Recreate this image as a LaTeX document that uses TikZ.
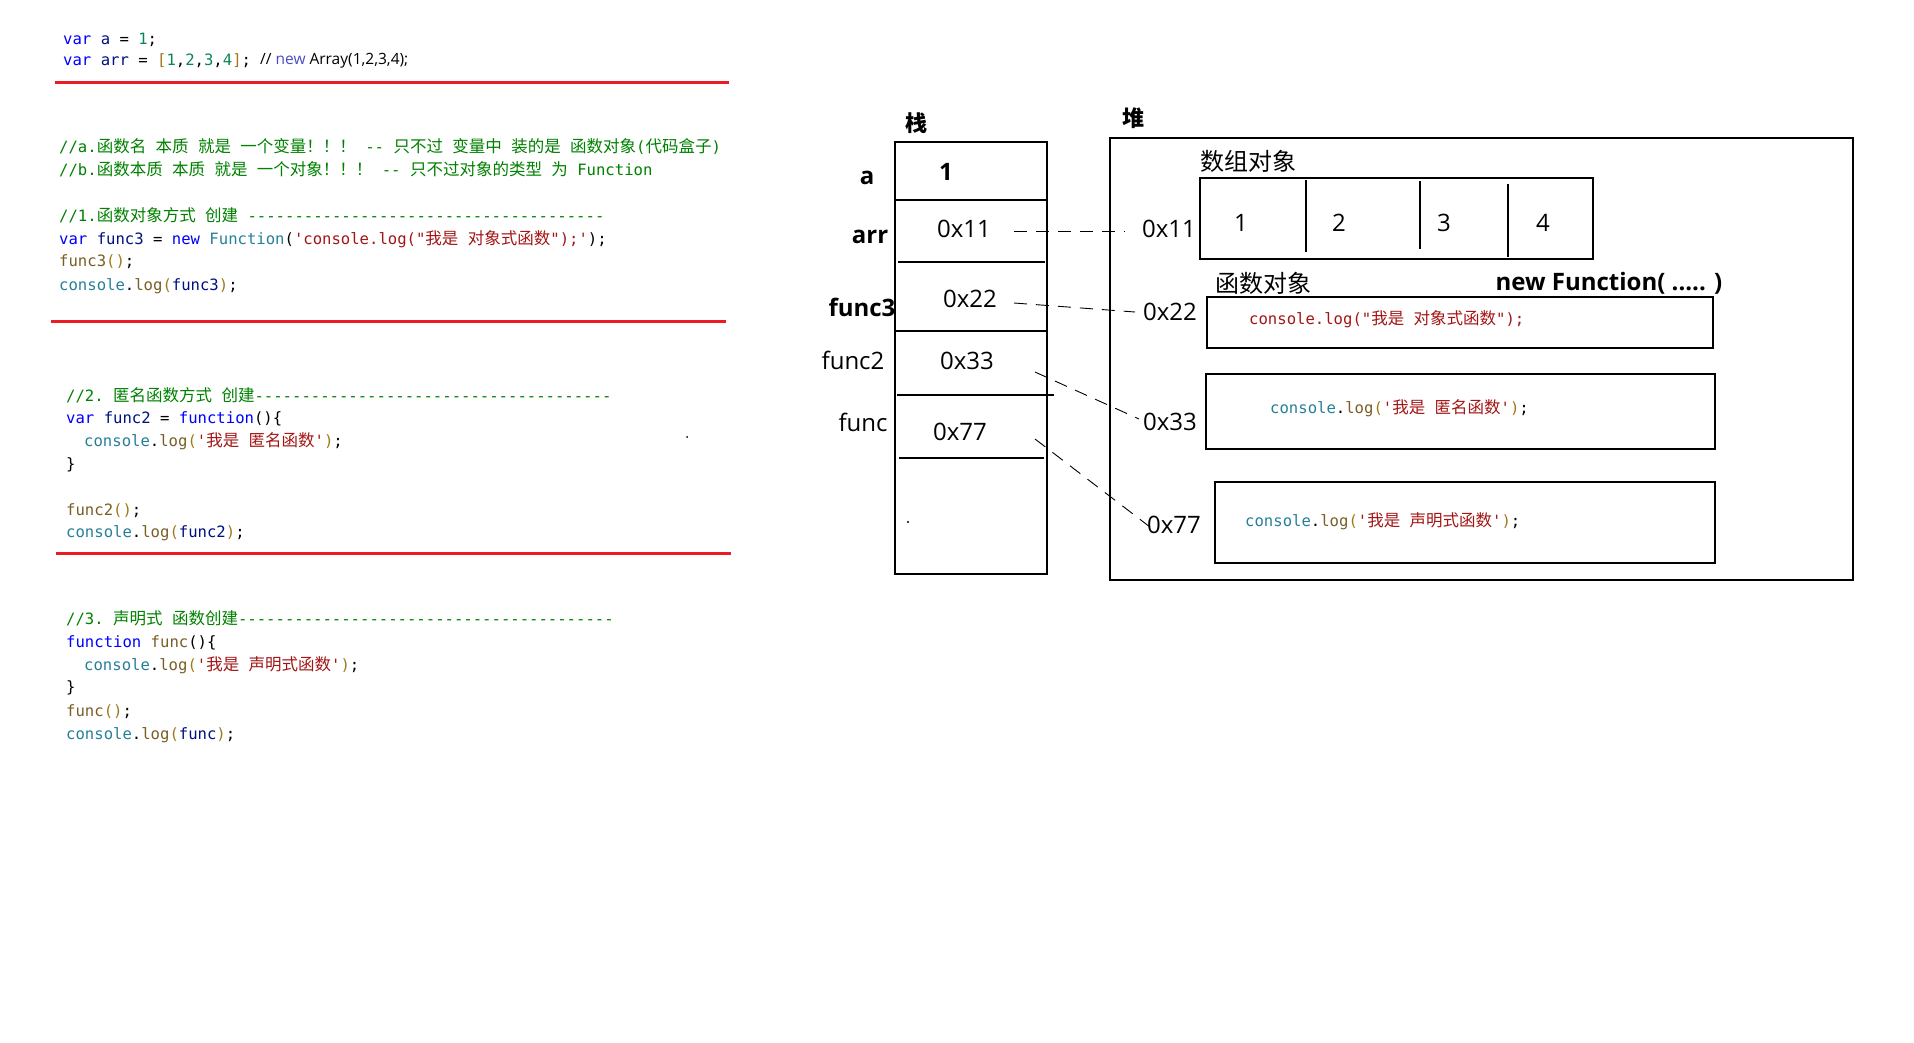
\documentclass[tikz,border=0pt]{standalone}
\usepackage{fontspec}
\setmainfont{Open Sans}
\setmonofont{DejaVu Sans Mono}
\newfontfamily\cjkf{Noto Sans CJK SC}
\definecolor{kw}{HTML}{0000FF}
\definecolor{vr}{HTML}{001080}
\definecolor{nm}{HTML}{098658}
\definecolor{st}{HTML}{A31515}
\definecolor{cm}{HTML}{008000}
\definecolor{ty}{HTML}{267F99}
\definecolor{fn}{HTML}{795E26}
\definecolor{brk}{HTML}{A07A1A}
\definecolor{newblue}{HTML}{4B4BC8}
\definecolor{redline}{HTML}{ED1C24}
\newcommand\zh[1]{{\cjkf\fontsize{16.5}{20}\selectfont #1}}
\newcommand\cKw[1]{\textcolor{kw}{#1}}
\newcommand\cVr[1]{\textcolor{vr}{#1}}
\newcommand\cNm[1]{\textcolor{nm}{#1}}
\newcommand\cSt[1]{\textcolor{st}{#1}}
\newcommand\cCm[1]{\textcolor{cm}{#1}}
\newcommand\cTy[1]{\textcolor{ty}{#1}}
\newcommand\cFn[1]{\textcolor{fn}{#1}}
\newcommand\cBr[1]{\textcolor{brk}{#1}}
\newcommand\dashrun[1]{\foreach \i in {1,...,#1}{-}}
\tikzset{
  code/.style={anchor=west, inner sep=0pt, font=\ttfamily\fontsize{15.6}{20}\selectfont, text height=11pt, text depth=3pt},
  lbl/.style={inner sep=0pt, font=\fontsize{24}{28}\selectfont},
  lblb/.style={inner sep=0pt, font=\bfseries\fontsize{24}{28}\selectfont},
  zhlbl/.style={inner sep=0pt, font=\cjkf\fontsize{24}{28}\selectfont},
  zhbold/.style={inner sep=0pt, font=\cjkf\bfseries\fontsize{22}{26}\selectfont},
  box/.style={draw, line width=1.3pt, inner sep=0pt},
  divline/.style={line width=1.3pt},
  redrule/.style={draw=redline, line width=3pt},
  ptrline/.style={line width=0.9pt, dash pattern=on 13pt off 9pt}
}
\begin{document}
\begin{tikzpicture}[x=1pt,y=-1pt]
\useasboundingbox (0,0) rectangle (1914,1042);
% ---------- code block 0
\node[code] (l1) at (63,40) {\cKw{var} \cVr{a} = \cNm{1};};
\node[code] (l2) at (63,61) {\cKw{var} \cVr{arr} = \cBr{[}\cNm{1},\cNm{2},\cNm{3},\cNm{4}\cBr{]};};
\node[anchor=west, inner sep=0pt, font=\fontsize{15.5}{20}\selectfont] (l2b) at (260,61) {// \textcolor{newblue}{new} Array(1,2,3,4);};
\draw[redrule] (55,82) -- (729,82);
% ---------- code block 1
\node[code] (c1) at (59,148) {\cCm{//a.\zh{函数名} \zh{本质} \zh{就是} \zh{一个变量！！！} -{}- \zh{只不过} \zh{变量中} \zh{装的是} \zh{函数对象}(\zh{代码盒子})}};
\node[code] (c2) at (59,171) {\cCm{//b.\zh{函数本质} \zh{本质} \zh{就是} \zh{一个对象！！！} -{}- \zh{只不过对象的类型} \zh{为} Function}};
\node[code] (c3) at (59,217) {\cCm{//1.\zh{函数对象方式} \zh{创建} \dashrun{38}}};
\node[code] (c4) at (59,240) {\cKw{var} \cVr{func3} = \cKw{new} \cTy{Function}(\cSt{'console.log("\zh{我是} \zh{对象式函数}");'});};
\node[code] (c5) at (59,262) {\cFn{func3}\cBr{()};};
\node[code] (c6) at (59,286) {\cTy{console}.\cFn{log}\cBr{(}\cVr{func3}\cBr{)};};
\draw[redrule] (51,321) -- (726,321);
% ---------- code block 2
\node[code] (d1) at (66,397) {\cCm{//2. \zh{匿名函数方式} \zh{创建}\dashrun{38}}};
\node[code] (d2) at (66,419) {\cKw{var} \cVr{func2} = \cKw{function}()\{};
\node[code] (d3) at (84,442) {\cTy{console}.\cFn{log}\cBr{(}\cSt{'\zh{我是} \zh{匿名函数}'}\cBr{)};};
\node[code] (d4) at (66,465) {\}};
\node[code] (d5) at (66,511) {\cFn{func2}\cBr{()};};
\node[code] (d6) at (66,533) {\cTy{console}.\cFn{log}\cBr{(}\cVr{func2}\cBr{)};};
\fill (687,437) circle (1pt);
\draw[redrule] (56,553) -- (731,553);
% ---------- code block 3
\node[code] (e1) at (66,620) {\cCm{//3. \zh{声明式} \zh{函数创建}\dashrun{40}}};
\node[code] (e2) at (66,643) {\cKw{function} \cFn{func}()\{};
\node[code] (e3) at (84,666) {\cTy{console}.\cFn{log}\cBr{(}\cSt{'\zh{我是} \zh{声明式函数}'}\cBr{)};};
\node[code] (e4) at (66,688) {\}};
\node[code] (e5) at (66,712) {\cFn{func}\cBr{()};};
\node[code] (e6) at (66,735) {\cTy{console}.\cFn{log}\cBr{(}\cVr{func}\cBr{)};};
% ---------- stack
\node[zhbold] (stacktitle) at (916,123) {栈};
\node[box, minimum width=152pt, minimum height=432pt] (stack) at (971,358) {};
\draw[divline] (896,200) -- (1046,200);
\draw[divline] (898,262) -- (1045,262);
\draw[divline] (896,331) -- (1047,331);
\draw[divline] (897,395) -- (1054,395);
\draw[divline] (899,458) -- (1044,458);
\node[lblb] (na) at (867,178) {a};
\node[lblb] (va) at (946,172) {1};
\node[lblb] (narr) at (870,237) {arr};
\node[lbl] (varr) at (964,229) {0x11};
\node[lblb] (nf3) at (862,307) {func3};
\node[lbl] (vf3) at (970,299) {0x22};
\node[lbl] (nf2) at (853,360) {func2};
\node[lbl] (vf2) at (967,361) {0x33};
\node[lbl] (nf) at (863,422) {func};
\node[lbl] (vf) at (960,432) {0x77};
\fill (908,522) circle (1.2pt);
% ---------- heap
\node[zhbold] (heaptitle) at (1133,118) {堆};
\node[box, minimum width=743pt, minimum height=442pt] (heap) at (1481.5,359) {};
\node[zhlbl] (arrtitle) at (1248,161) {数组对象};
\node[box, minimum width=393pt, minimum height=81pt] (arrbox) at (1396.5,218.5) {};
\draw[divline] (1306,180) -- (1306,252);
\draw[divline] (1420,181) -- (1420,249);
\draw[divline] (1508,184) -- (1508,257);
\node[lbl] (el1) at (1241,223) {1};
\node[lbl] (el2) at (1339,223) {2};
\node[lbl] (el3) at (1444,223) {3};
\node[lbl] (el4) at (1543,223) {4};
\node[lbl] (h11) at (1169,229) {0x11};
\node[zhlbl] (fntitle) at (1263,283) {函数对象};
\node[lblb] (newfn) at (1609,283) {new Function( ..... )};
\node[lbl] (h22) at (1170,312) {0x22};
\node[box, minimum width=506pt, minimum height=51pt] (fbox1) at (1460,322.5) {};
\node[code] (fcode1) at (1249,320) {\cSt{console.log("\zh{我是} \zh{对象式函数}");}};
\node[lbl] (h33) at (1170,422) {0x33};
\node[box, minimum width=509pt, minimum height=75pt] (fbox2) at (1460.5,411.5) {};
\node[code] (fcode2) at (1270,409) {\cTy{console}.\cFn{log}\cBr{(}\cSt{'\zh{我是} \zh{匿名函数}'}\cBr{)};};
\node[lbl] (h77) at (1174,525) {0x77};
\node[box, minimum width=500pt, minimum height=81pt] (fbox3) at (1465,522.5) {};
\node[code] (fcode3) at (1245,522) {\cTy{console}.\cFn{log}\cBr{(}\cSt{'\zh{我是} \zh{声明式函数}'}\cBr{)};};
% ---------- pointers
\coordinate (p11a) at (1014,231);
\coordinate (p11b) at (1125,231);
\coordinate (p22a) at (1014,303);
\coordinate (p22b) at (1135,312);
\coordinate (p33a) at (1035,372);
\coordinate (p33b) at (1139,419);
\coordinate (p77a) at (1035,439);
\coordinate (p77b) at (1150,527);
\draw[ptrline] (p11a) -- (p11b);
\draw[ptrline] (p22a) -- (p22b);
\draw[ptrline] (p33a) -- (p33b);
\draw[ptrline] (p77a) -- (p77b);
\end{tikzpicture}
\end{document}
